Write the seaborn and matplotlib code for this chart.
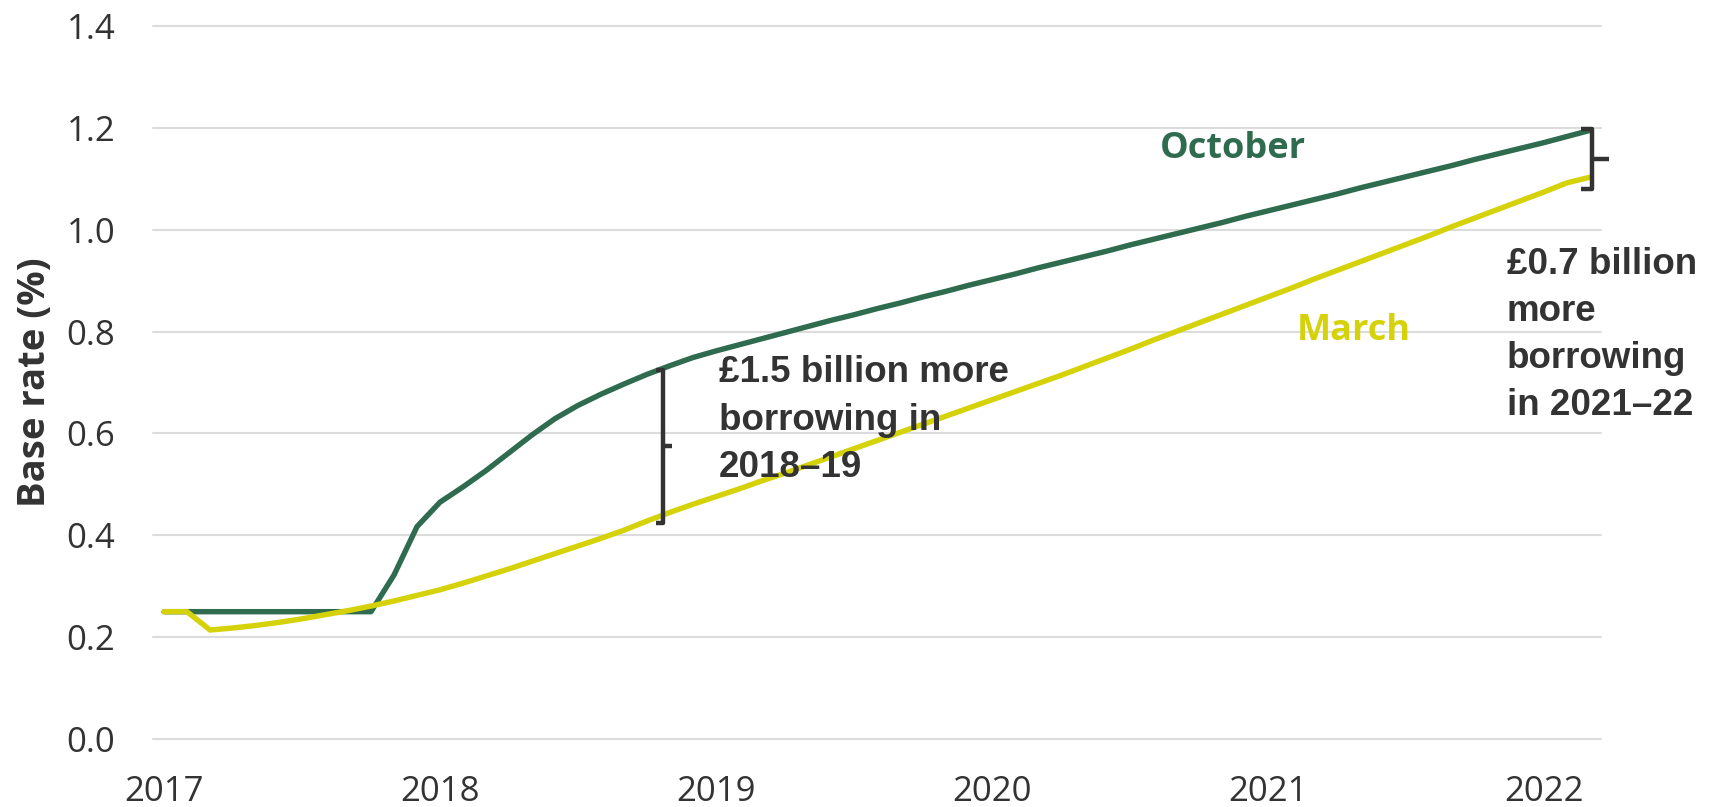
import numpy as np
import pandas as pd
import matplotlib
matplotlib.use("Agg")
import matplotlib.pyplot as plt
import seaborn as sns

# Monthly Bank Rate paths, January 2017 to March 2022
months = pd.date_range("2017-01-01", "2022-03-01", freq="MS")

october_path = [
    0.250, 0.250, 0.250, 0.250, 0.250, 0.250, 0.250, 0.250, 0.250, 0.250,
    0.322, 0.417, 0.465, 0.495, 0.527, 0.562, 0.597, 0.629, 0.655, 0.677,
    0.697, 0.716, 0.733, 0.749,
    0.762, 0.774, 0.786, 0.798, 0.810, 0.822, 0.833, 0.845, 0.856, 0.868, 0.879, 0.891,
    0.902, 0.913, 0.925, 0.936, 0.947, 0.958, 0.970, 0.981, 0.992, 1.003, 1.014, 1.026,
    1.037, 1.048, 1.059, 1.070, 1.082, 1.093, 1.104, 1.115, 1.126, 1.138, 1.149, 1.160,
    1.171, 1.183, 1.195,
]

march_path = [
    0.250, 0.250,
    0.214, 0.218, 0.223, 0.229, 0.236, 0.244, 0.252, 0.261, 0.271, 0.282,
    0.293, 0.306, 0.320, 0.334, 0.349, 0.364, 0.379, 0.394, 0.410, 0.428, 0.445, 0.461,
    0.476, 0.491, 0.507, 0.522, 0.538, 0.554, 0.570, 0.586, 0.602, 0.618, 0.634, 0.650,
    0.666, 0.682, 0.698, 0.714, 0.731, 0.748, 0.765, 0.783, 0.800, 0.817, 0.834, 0.851,
    0.868, 0.885, 0.903, 0.920, 0.937, 0.954, 0.971, 0.988, 1.006, 1.023, 1.040, 1.057,
    1.074, 1.092, 1.103,
]

series_names = ["October", "March"]
series_colors = {"October": "#2e6b4f", "March": "#d5d20a"}

year_ticks = [2017, 2018, 2019, 2020, 2021, 2022]
rate_ticks = [0.0, 0.2, 0.4, 0.6, 0.8, 1.0, 1.2, 1.4]

gap_2018 = {"upper": 0.7245, "lower": 0.4247, "label": "£1.5 billion more\nborrowing in\n2018–19"}
gap_2021 = {"upper": 1.197, "lower": 1.079, "label": "£0.7 billion\nmore\nborrowing\nin 2021–22"}

# ---------------------------------------------------------------------------
year_frac = months.year + (months.month - 1) / 12.0
df = pd.DataFrame({
    "year": np.concatenate([year_frac, year_frac]),
    "rate": october_path + march_path,
    "forecast": ["October"] * len(months) + ["March"] * len(months),
})

sns.set_theme(style="white")
plt.rcParams["font.family"] = ["Open Sans", "DejaVu Sans"]

W, H = 1717, 807
fig = plt.figure(figsize=(W / 100, H / 100), dpi=100)
ax = fig.add_axes([153 / W, 1 - 739 / H, (1601 - 153) / W, (739 - 26) / H])

for y in rate_ticks:
    ax.axhline(y, color="#dcdcdc", lw=1.5, zorder=0, clip_on=False)

sns.lineplot(data=df, x="year", y="rate", hue="forecast", hue_order=series_names,
             palette=series_colors, linewidth=3.9, legend=False, ax=ax, zorder=3,
             solid_joinstyle="round", solid_capstyle="round")

ax.set_xlim(2016.96, 2022.207)
ax.set_ylim(0, 1.4)
ax.set_xticks(year_ticks)
ax.set_xticklabels([str(y) for y in year_ticks])
ax.set_yticks(rate_ticks)
ax.set_yticklabels([f"{v:.1f}" for v in rate_ticks])
ax.tick_params(axis="x", length=0, pad=26, labelsize=25, labelcolor="#333333")
ax.tick_params(axis="y", length=0, pad=27, labelsize=25, labelcolor="#333333")
for s in ax.spines.values():
    s.set_visible(False)
ax.grid(False)
ax.set_xlabel("")
ax.set_ylabel("Base rate (%)", fontsize=27.5, fontweight="bold", color="#333333", labelpad=9)

# Series labels
ax.text(2020.873, 1.140, "October", ha="center", va="baseline", fontsize=26,
        fontweight="bold", color=series_colors["October"])
ax.text(2021.31, 0.7834, "March", ha="center", va="baseline", fontsize=26,
        fontweight="bold", color=series_colors["March"])

bracket_kw = dict(color="#333333", lw=3.2, solid_joinstyle="round",
                  solid_capstyle="butt", clip_on=False, zorder=4)
note_kw = dict(ha="left", va="baseline", fontsize=26.5, fontweight="bold",
               color="#333333", family=["Liberation Sans", "DejaVu Sans"],
               linespacing=1.45, zorder=5)

# Gap bracket in 2018-19
bx = 2018.808
ax.plot([bx - 0.024, bx, bx, bx - 0.024],
        [gap_2018["upper"], gap_2018["upper"], gap_2018["lower"], gap_2018["lower"]], **bracket_kw)
mid = (gap_2018["upper"] + gap_2018["lower"]) / 2
ax.plot([bx, bx + 0.033], [mid, mid], **bracket_kw)
ax.text(2019.011, 0.515, gap_2018["label"], **note_kw)

# Gap bracket at end of 2021-22
bx2 = 2022.173
ax.plot([bx2 - 0.04, bx2, bx2, bx2 - 0.04],
        [gap_2021["upper"], gap_2021["upper"], gap_2021["lower"], gap_2021["lower"]], **bracket_kw)
mid2 = (gap_2021["upper"] + gap_2021["lower"]) / 2
ax.plot([bx2, bx2 + 0.063], [mid2, mid2], **bracket_kw)
ax.text(2021.866, 0.636, gap_2021["label"], **note_kw)

fig.savefig("out.png", dpi=100)
